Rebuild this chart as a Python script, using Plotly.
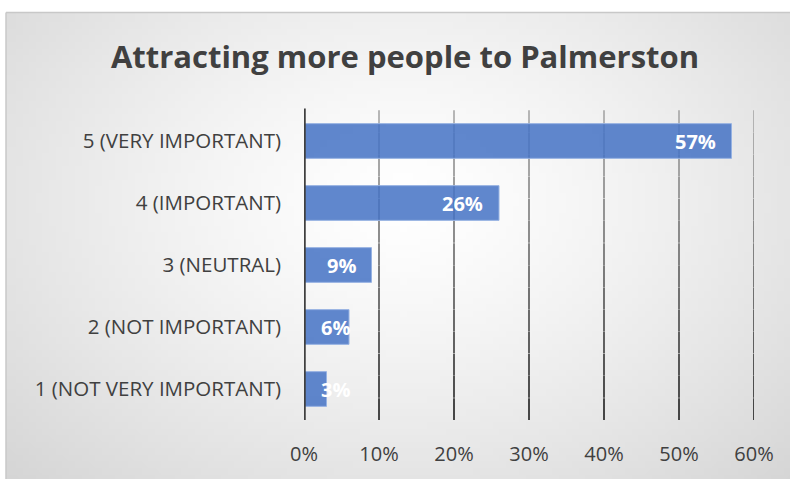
import zlib, struct, base64, math
import plotly.graph_objects as go

# ---- data ----
categories = ["1 (NOT VERY IMPORTANT)", "2 (NOT IMPORTANT)", "3 (NEUTRAL)",
              "4 (IMPORTANT)", "5 (VERY IMPORTANT)"]
values = [3, 6, 9, 26, 57]
labels = ["3%", "6%", "9%", "26%", "57%"]
tick_vals = [0, 10, 20, 30, 40, 50, 60]
tick_text = ["0%", "10%", "20%", "30%", "40%", "50%", "60%"]
title = "Attracting more people to Palmerston"

FONT = "Open Sans"

# ---- background gradient image (style only) ----
def make_png(w, h):
    raw = b""
    cx, cy = 0.5, 0.4
    for j in range(h):
        row = bytearray([0])
        for i in range(w):
            dx = (i / (w - 1) - cx) / 0.5
            dy = (j / (h - 1) - cy) / 0.6
            d = min(1.0, math.sqrt(dx * dx + dy * dy) / math.sqrt(2))
            v = int(round(255 - 42 * d ** 1.3))
            row += bytes([v, v, v])
        raw += bytes(row)
    def chunk(t, data):
        c = struct.pack(">I", len(data)) + t + data
        return c + struct.pack(">I", zlib.crc32(t + data) & 0xffffffff)
    png = b"\x89PNG\r\n\x1a\n"
    png += chunk(b"IHDR", struct.pack(">IIBBBBB", w, h, 8, 2, 0, 0, 0))
    png += chunk(b"IDAT", zlib.compress(raw, 9))
    png += chunk(b"IEND", b"")
    return "data:image/png;base64," + base64.b64encode(png).decode()

bg = make_png(120, 72)

W, H = 790, 479
ml, mr, mt, mb = 304, 36, 110, 54
pw, ph = W - ml - mr, H - mt - mb
def px_x(p): return (p - ml) / pw
def px_y(p): return (H - mb - p) / ph

fig = go.Figure()
fig.add_trace(go.Bar(
    y=categories, x=values, orientation="h",
    marker=dict(color="rgba(68,114,196,0.85)",
                line=dict(color="rgba(150,178,226,1)", width=1)),
    hoverinfo="skip",
))

annotations = []
for c, v, t in zip(categories, values, labels):
    if v < 8:
        annotations.append(dict(x=0, y=c, xref="x", yref="y", text=t,
                                showarrow=False, xanchor="left", xshift=15,
                                font=dict(family=FONT, size=20, color="white", weight="bold")))
    else:
        annotations.append(dict(x=v, y=c, xref="x", yref="y", text=t,
                                showarrow=False, xanchor="right", xshift=-14,
                                font=dict(family=FONT, size=20, color="white", weight="bold")))

shapes = []
# frame (left and top edges only are visible)
shapes.append(dict(type="line", xref="paper", yref="paper",
                   x0=px_x(6), x1=px_x(6), y0=px_y(490), y1=px_y(11),
                   line=dict(color="#C8C8C8", width=1.5), layer="below"))
shapes.append(dict(type="line", xref="paper", yref="paper",
                   x0=px_x(6), x1=px_x(800), y0=px_y(11), y1=px_y(11),
                   line=dict(color="#C8C8C8", width=1.5), layer="below"))
# gradient gridlines
nseg = 14
for tv in tick_vals[1:]:
    for k in range(nseg):
        f = k / nseg
        g = int(round(170 - (170 - 25) * (f + 0.5 / nseg)))
        shapes.append(dict(type="line", xref="x", yref="paper", x0=tv, x1=tv,
                           y0=1 - f - 0.001, y1=1 - (k + 1) / nseg,
                           line=dict(color=f"rgb({g},{g},{g})", width=1.6),
                           layer="below"))
# axis line at 0
shapes.append(dict(type="line", xref="x", yref="paper", x0=0, x1=0, y0=0, y1=1.005,
                   line=dict(color="#404040", width=3.5), layer="above"))

fig.update_layout(
    width=W, height=H,
    margin=dict(l=ml, r=mr, t=mt, b=mb),
    paper_bgcolor="white", plot_bgcolor="rgba(0,0,0,0)",
    title=dict(text=title, x=405 / W, xanchor="center", y=1 - 57 / H, yanchor="middle",
               font=dict(family=FONT, size=31, color="#404040", weight="bold")),
    bargap=0.44,
    showlegend=False,
    annotations=annotations,
    shapes=shapes,
    images=[dict(source=bg, xref="paper", yref="paper",
                 x=px_x(6), y=px_y(11), sizex=(800 - 6) / pw, sizey=(490 - 11) / ph,
                 xanchor="left", yanchor="top", sizing="stretch", layer="below")],
    xaxis=dict(range=[0, 60], tickvals=tick_vals, ticktext=tick_text,
               showgrid=False, zeroline=False, showline=False, ticks="",
               ticklabelstandoff=20,
               tickfont=dict(family=FONT, size=20, color="#404040"), fixedrange=True),
    yaxis=dict(showgrid=False, zeroline=False, showline=False, ticks="",
               ticklabelstandoff=22,
               tickfont=dict(family=FONT, size=20.5, color="#404040"), fixedrange=True),
)

fig.write_html("out.html", config={"displayModeBar": False},
               post_script="document.body.style.margin='0';document.body.style.overflow='hidden';")
